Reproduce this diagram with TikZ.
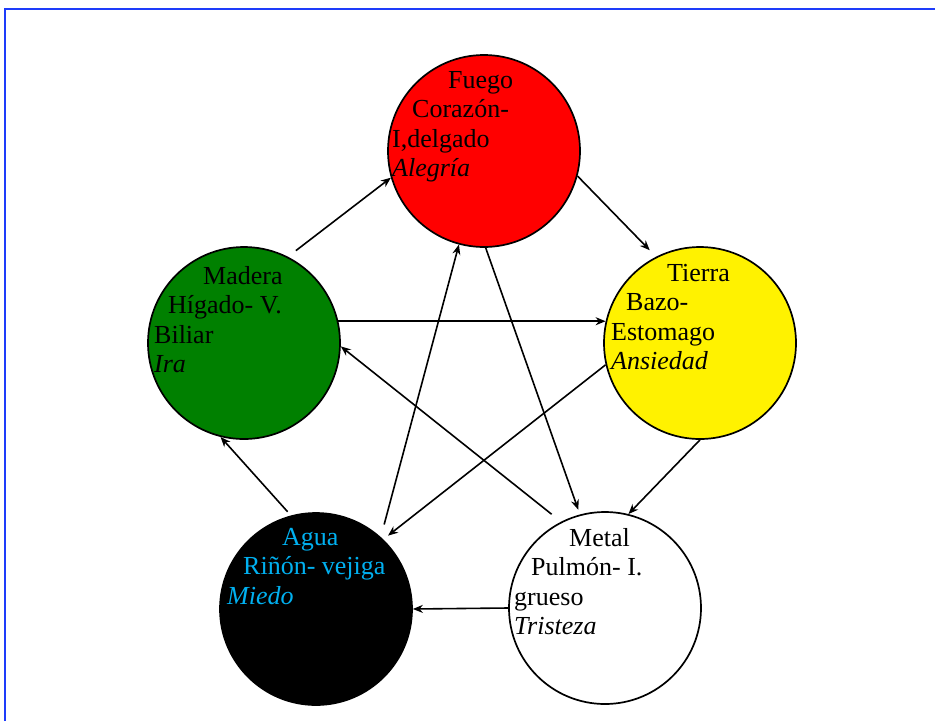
\documentclass[tikz,border=0pt]{standalone}
\usepackage{fontspec}
\setmainfont{Liberation Serif}
\usetikzlibrary{arrows.meta,positioning}
\definecolor{aguatxt}{RGB}{0,176,240}
\definecolor{marco}{RGB}{30,60,250}

\begin{document}
\begin{tikzpicture}[x=1pt,y=-1pt,>={Stealth[length=10pt,width=8pt]}, every node/.style={font=\fontsize{26}{29.5}\selectfont}]
\tikzstyle{elem}=[draw, circle, line width=1.7pt, minimum size=192pt, inner sep=0pt]
\tikzstyle{txt}=[align=left, anchor=north west, inner sep=0pt]
\tikzstyle{arr}=[->, line width=1.6pt]
\useasboundingbox (0,0) rectangle (935,721);
\draw[marco, line width=2pt] (5,721) |- (935,9);
% the five elements
\node[elem, fill=red] (fuego) at (484,151) {};
\node[elem, fill=green!50!black] (madera) at (244,343) {};
\node[elem, fill=yellow] (tierra) at (700,343) {};
\node[elem, fill=black] (agua) at (316,609) {};
\node[elem, fill=white] (metal) at (605,608) {};
\node[txt] (tfuego) at (392,71) {\hspace*{56pt}Fuego\\\hspace*{20pt}Corazón-\\I,delgado\\\textit{Alegría}};
\node[txt] (tmadera) at (154,266) {\hspace*{49pt}Madera\\\hspace*{14pt}Hígado- V.\\Biliar\\\textit{Ira}};
\node[txt] (ttierra) at (611,264) {\hspace*{56pt}Tierra\\\hspace*{15pt}Bazo-\\Estomago\\\textit{Ansiedad}};
\node[txt, text=aguatxt] (tagua) at (227,528) {\hspace*{55pt}Agua\\\hspace*{16pt}Riñón- vejiga\\\textit{Miedo}};
\node[txt] (tmetal) at (514,528) {\hspace*{55pt}Metal\\\hspace*{17pt}Pulmón- I.\\grueso\\\textit{Tristeza}};
% generation cycle
\draw[arr, shorten <=10pt] (madera.63) -- (fuego.196);
\draw[arr, shorten >=9pt] (fuego.345) -- (tierra.117);
\draw[arr] (tierra.270) -- (metal.76);
\draw[arr] (metal.180) -- (agua.0);
\draw[arr, shorten <=5pt] (agua.105) -- (madera.256);
% inner star
\draw[arr] (madera.13) -- (tierra.167);
\draw[arr, shorten <=12pt] (metal.117) -- (madera.358);
\draw[arr, shorten <=13pt] (agua.48) -- (fuego.255);
\draw[arr, shorten >=5pt] (fuego.271) -- (metal.105);
\draw[arr, shorten >=6pt] (tierra.193) -- (agua.46);
\end{tikzpicture}
\end{document}
